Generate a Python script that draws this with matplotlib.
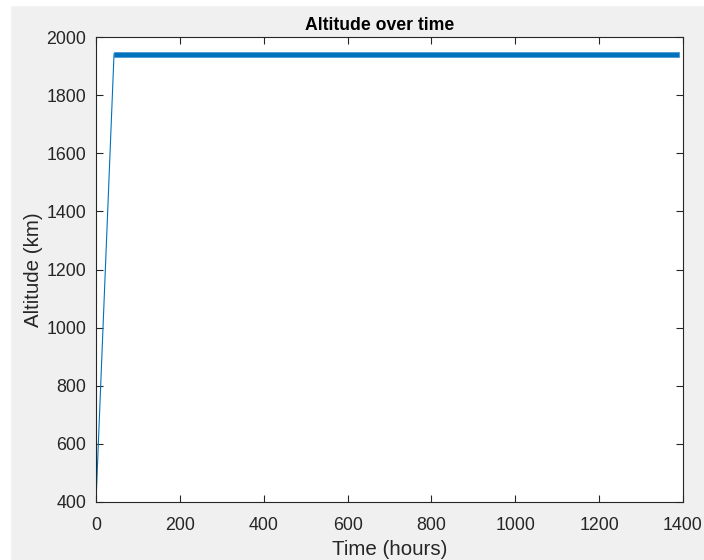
import matplotlib
matplotlib.use("Agg")
import matplotlib.pyplot as plt
from matplotlib.patches import Rectangle

# Data
ramp_time = [0, 43]              # hours
ramp_alt = [400, 1942]           # km
band_time = [43, 1390]           # hours (dense oscillation region)
band_low = [1932, 1932]          # km
band_high = [1949, 1949]         # km
xticks = [0, 200, 400, 600, 800, 1000, 1200, 1400]
yticks = [400, 600, 800, 1000, 1200, 1400, 1600, 1800, 2000]

plt.rcParams['font.family'] = ['Liberation Sans', 'DejaVu Sans']
fig = plt.figure(figsize=(7.04, 5.6), dpi=100, facecolor='#f0f0f0')
# white screenshot margin
fig.patches.append(Rectangle((0, 0), 10/704, 1, transform=fig.transFigure, color='white', zorder=-1))
fig.patches.append(Rectangle((0, 1 - 5/560), 1, 5/560, transform=fig.transFigure, color='white', zorder=-1))

ax = fig.add_axes([96/704, 1 - 502/560, (683-96)/704, (502-37)/560])
ax.set_facecolor('white')
blue = '#0072BD'
ax.plot(ramp_time, ramp_alt, color=blue, lw=0.8)
ax.fill_between(band_time, band_low, band_high, color=blue, lw=0.6, edgecolor='#4a9ad4')

ax.set_xlim(0, 1400)
ax.set_ylim(400, 2000)
ax.set_xticks(xticks)
ax.set_yticks(yticks)
ax.tick_params(direction='in', top=True, right=True, length=5, width=0.8,
               colors='#262626', labelsize=12.8)
ax.tick_params(axis='x', pad=11)
ax.tick_params(axis='y', pad=7)
for s in ax.spines.values():
    s.set_color('#262626')
    s.set_linewidth(0.8)
ax.set_xlabel('Time (hours)', fontsize=14.8, color='#262626', labelpad=4)
ax.set_ylabel('Altitude (km)', fontsize=14.8, color='#262626', labelpad=2.5)
ax.set_title('Altitude over time', fontsize=12.7, fontweight='bold', color='black',
             pad=5, x=(380 - 96) / 587)

fig.savefig('out.png', dpi=100, facecolor=fig.get_facecolor())
